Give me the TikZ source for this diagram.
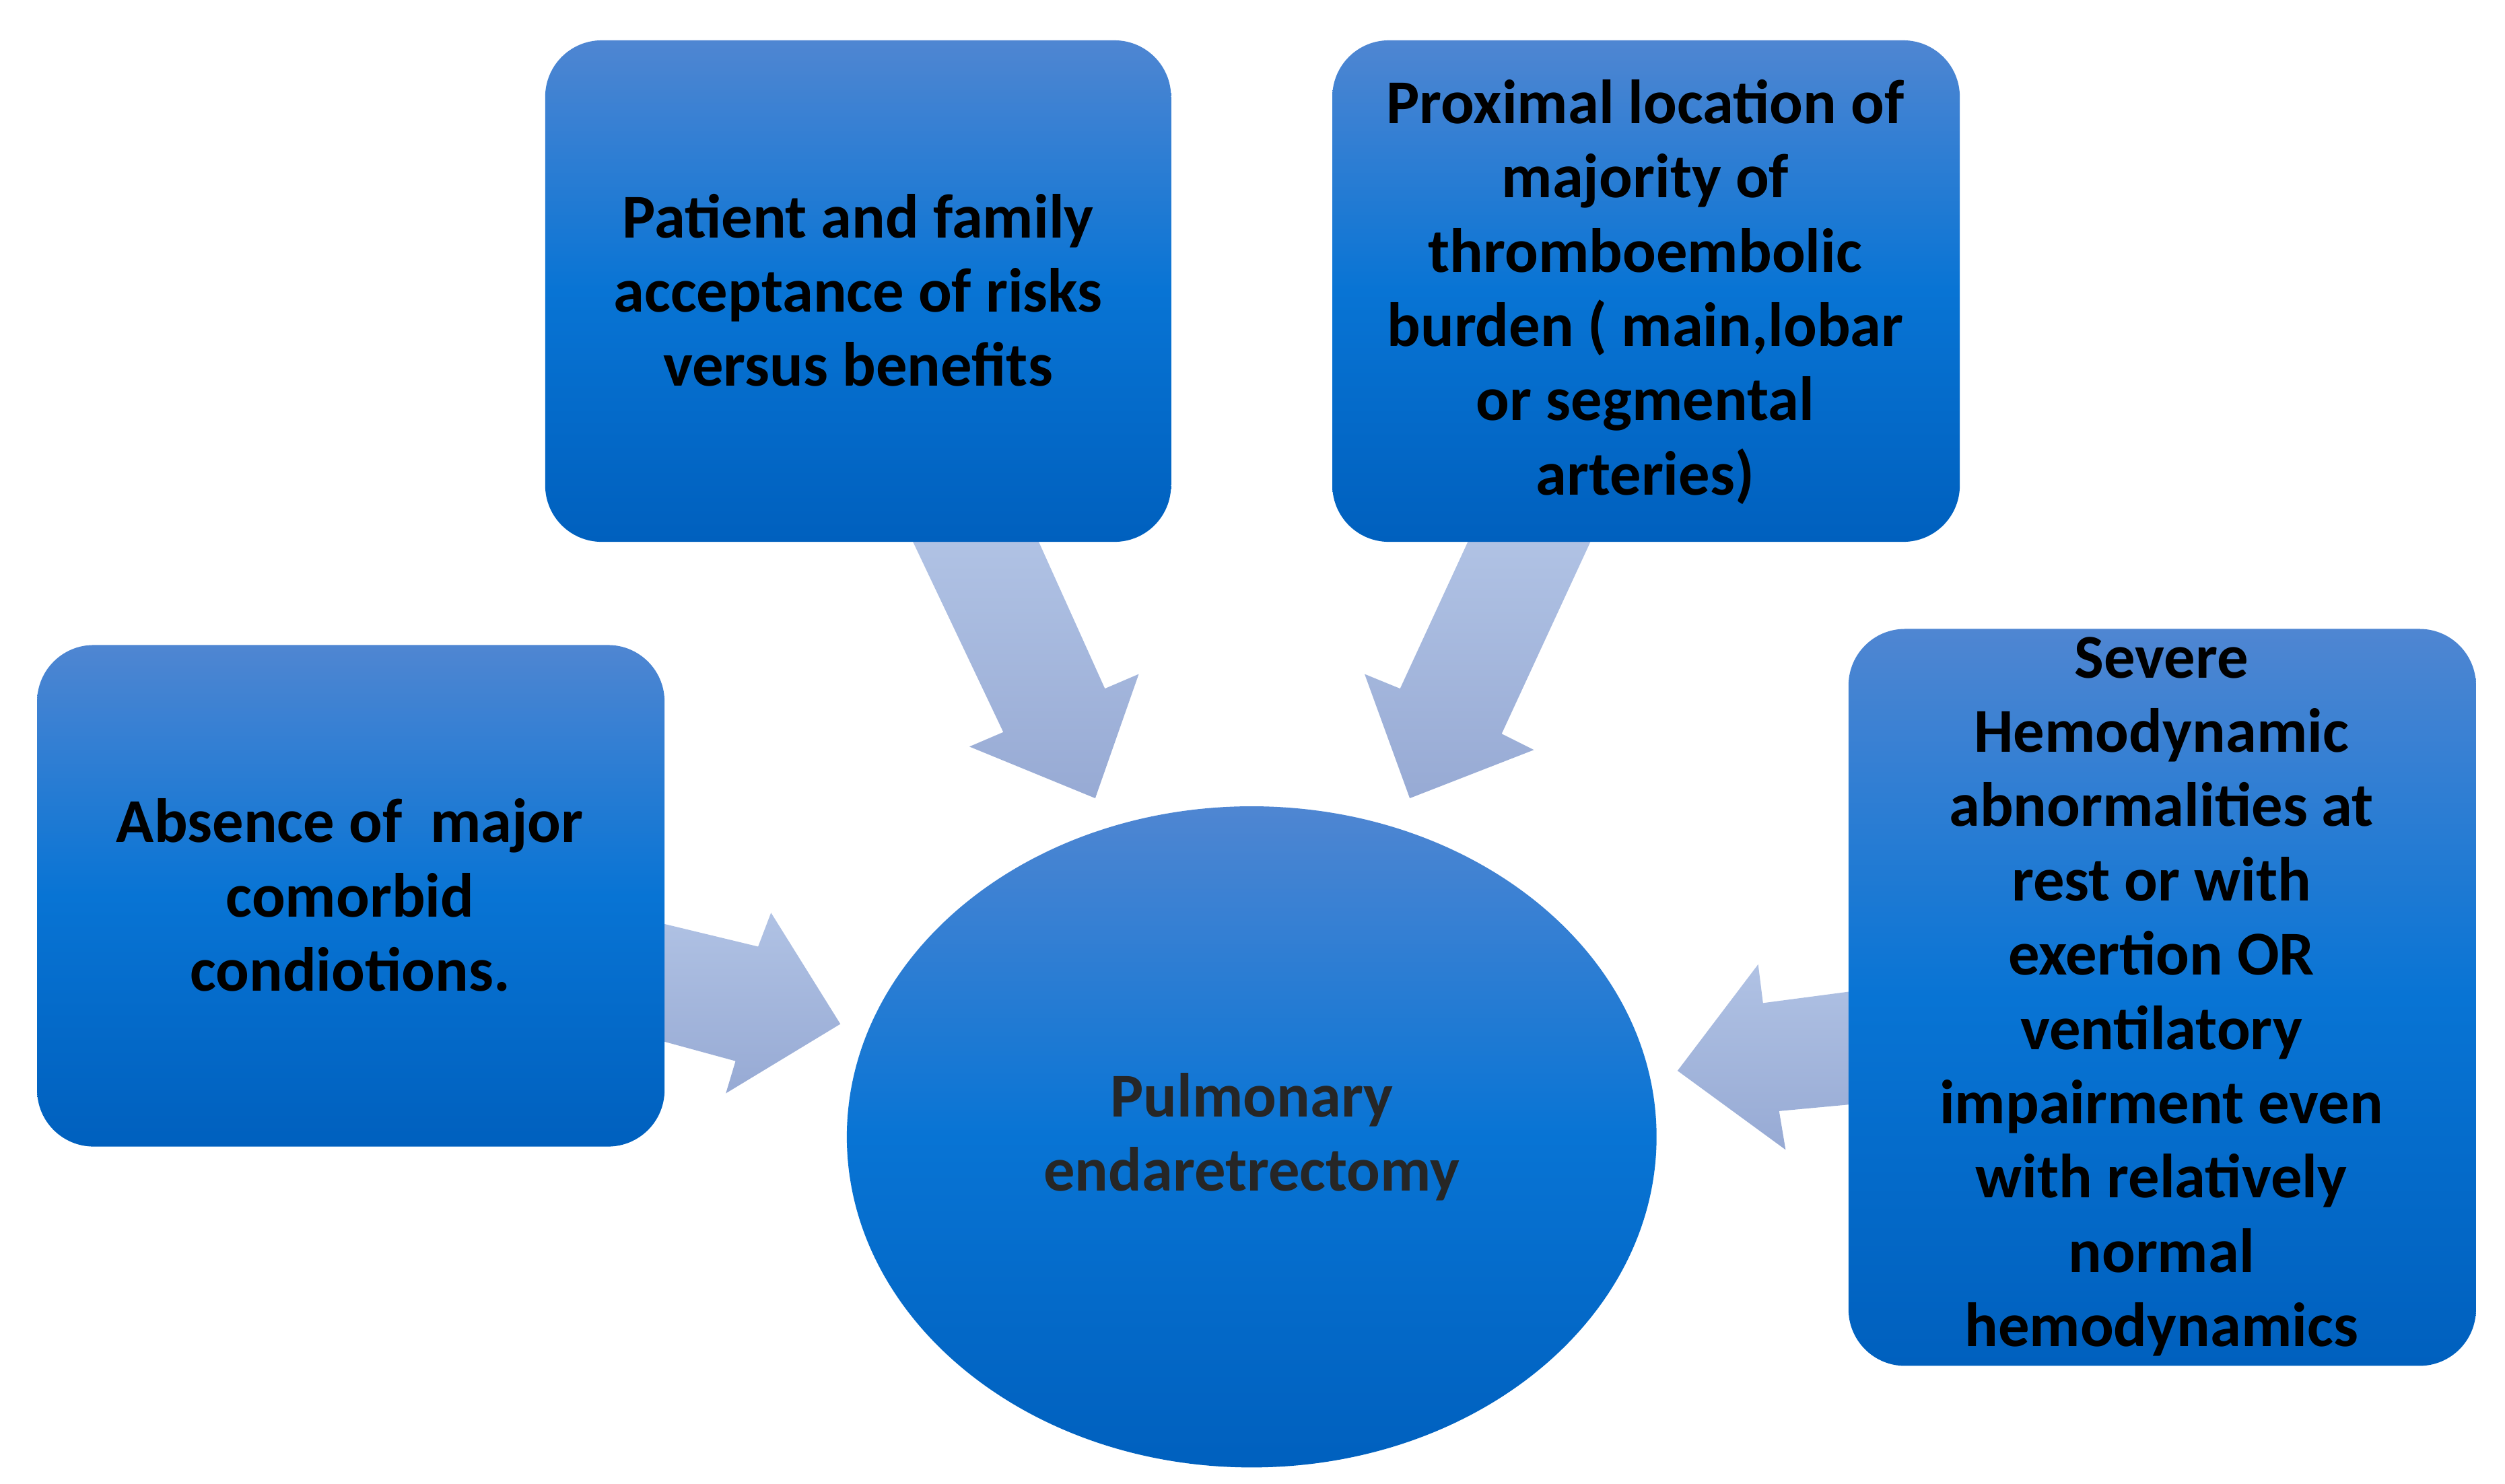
\documentclass[tikz,border=0pt]{standalone}
\usepackage{fontspec}
\setmainfont{Carlito}
\begin{document}
\begin{tikzpicture}[x=0.01cm,y=-0.01cm,
 box/.style={rounded corners=0.35cm,top color=blue1,bottom color=blue3,middle color=blue2,draw=none},
 arr/.style={top color=arrA,bottom color=arrB,draw=none},
 txt/.style={align=center,font=\fontsize{11}{13.1}\selectfont\bfseries,text=black}]
\definecolor{blue1}{HTML}{4F86D2}
\definecolor{blue2}{HTML}{0874D4}
\definecolor{blue3}{HTML}{0060BE}
\definecolor{arrA}{HTML}{B0C2E4}
\definecolor{arrB}{HTML}{97AAD4}
\useasboundingbox (0,0) rectangle (1553,920);
% arrows
\shade[arr] (566,336)--(644,336)--(685,427)--(706,418)--(679,495)--(601,463)--(622,454)--cycle;
\shade[arr] (910,336)--(986,336)--(931,455)--(951,465)--(874,495)--(846,418)--(868,427)--cycle;
\shade[arr] (412,573)--(470,587)--(478,566)--(521,635)--(450,678)--(456,658)--(412,646)--cycle;
\shade[arr] (1146,615)--(1093,622)--(1090,598)--(1040,664)--(1107,713)--(1103,689)--(1146,685)--cycle;
% boxes
\shade[box] (338,25) rectangle (726,336);
\node[txt] (b1) at (532,180) {Patient and family\\acceptance of risks\\versus benefits};
\shade[box] (826,25) rectangle (1215,336);
\node[txt] (b2) at (1020,181) {Proximal location of\\majority of\\thromboembolic\\burden ( main,lobar\\or segmental\\arteries)};
\shade[box] (23,400) rectangle (412,711);
\node[txt] (b3) at (217,555) {Absence of \ major\\comorbid\\condiotions.};
\shade[box] (1146,390) rectangle (1535,847);
\node[txt] (b4) at (1340,618) {Severe\\Hemodynamic\\abnormalities at\\rest or with\\exertion OR\\ventilatory\\impairment even\\with relatively\\normal\\hemodynamics};
\shade[top color=blue1,bottom color=blue3,middle color=blue2] (776,705) ellipse [x radius=251,y radius=205];
\node[txt,text=black!85] (c) at (776,705) {Pulmonary\\endaretrectomy};
\end{tikzpicture}
\end{document}
